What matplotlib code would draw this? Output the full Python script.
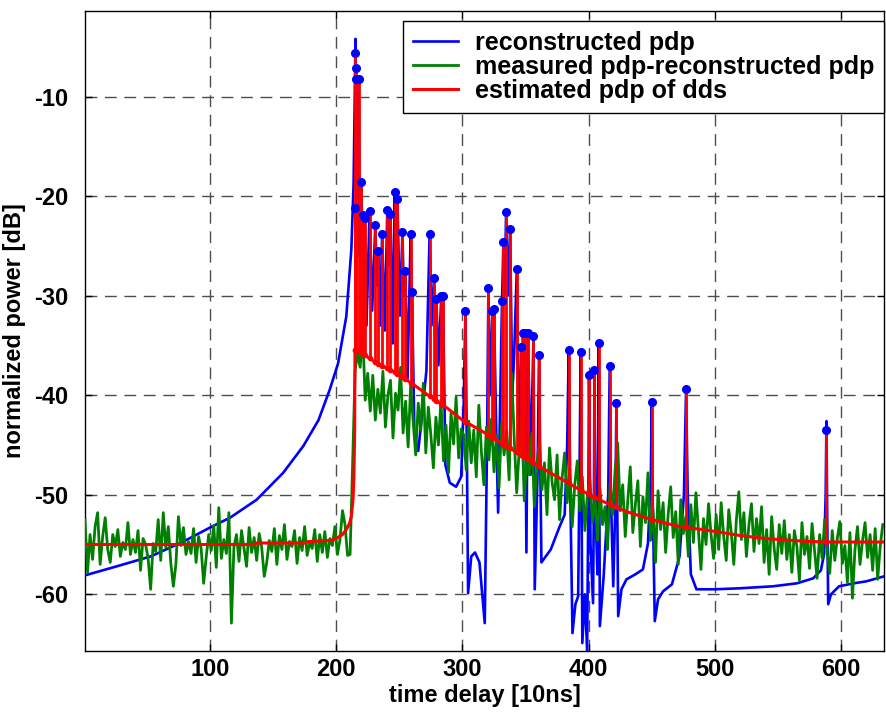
import numpy as np
import matplotlib
matplotlib.use("Agg")
import matplotlib.pyplot as plt

plt.rcParams['font.family'] = ['Liberation Sans', 'DejaVu Sans']
plt.rcParams['font.weight'] = 'bold'
plt.rcParams['axes.unicode_minus'] = False

# ---------------- data ----------------
# reconstructed pdp (blue)
blue_x = [1, 26, 53, 79, 100, 116, 137, 158, 174, 186, 195, 201.5, 208, 212, 213.8, 214.7, 215.3, 215.9,
          216.6, 217.2, 217.8, 218.6, 220.0, 220.8, 221.3, 222.0, 222.6, 224.0, 226.5, 228.5, 231.0, 232.3,
          233.4, 234.8, 236.4, 238.5, 240.5, 241.8, 243.0, 244.8, 246.4, 247.5, 248.5, 250.5, 252.5, 253.6,
          254.8, 256.5, 259.0, 259.5, 260.0, 262.0, 265.0, 268.0, 271.5, 274.0, 275.5, 277.5, 278.4, 279.4,
          281.0, 283.3, 284.0, 284.6, 286.5, 290, 295, 299, 301, 302.4, 303.5, 304.5, 307, 310, 313.5, 317.7,
          319.5, 320.6, 322, 323.8, 324.4, 325.0, 327, 328.3, 330, 331.4, 332.5, 333.5, 334.6, 336, 337.8,
          339.5, 341, 343.1, 344.5, 346.5, 347.3, 348.0, 348.7, 349.4, 350.7, 352.0, 354, 356.3, 357.3,
          359.5, 360.7, 362.6, 370, 377, 381, 383, 384.2, 385.5, 387.2, 389.5, 391.7, 393.0, 393.7, 394.4,
          395.0, 397, 398.8, 399.8, 400.3, 401.5, 403.5, 404.2, 404.6, 405.5, 407, 408.0, 408.9, 412, 415.5,
          416.7, 417.6, 419.5, 421.3, 422.0, 423.4, 426, 430, 437, 443, 447, 449.3, 450.0, 450.7, 452.4, 455,
          459, 466, 472, 475.5, 477.2, 478.5, 481, 485.4, 500, 519.8, 546, 565, 577.9, 584, 586.5, 587.8,
          588.4, 589.0, 589.8, 592, 598.4, 610, 620, 634]
blue_y = [-58.1, -57.2, -56.2, -54.7, -53.3, -52.3, -50.5, -47.8, -45.1, -42.5, -39.4, -36.8, -32.1, -25.4,
          -18.7, -10.0, -4.2, -14.0, -9.0, -16.0, -8.2, -26.0, -18.6, -27.0, -21.9, -26.0, -22.2, -33.0,
          -21.5, -31.5, -22.9, -29.0, -25.5, -33.0, -23.8, -33.5, -21.4, -27.0, -21.8, -34.8, -19.6, -26.0,
          -20.3, -32.0, -23.6, -30.0, -27.5, -38.5, -23.8, -29.0, -29.6, -44.0, -45.6, -42.0, -37.5, -23.8,
          -33.0, -28.2, -34.0, -30.3, -37.0, -30.0, -33.0, -30.0, -47.0, -48.8, -49.2, -48.2, -41.0, -31.5,
          -45.0, -59.9, -56.2, -55.8, -56.8, -62.9, -45.0, -29.2, -40.0, -31.5, -36.0, -31.3, -45.0, -51.8,
          -40.0, -30.5, -24.6, -30.0, -21.6, -30.0, -23.3, -40.0, -36.0, -27.3, -46.0, -35.2, -40.0, -33.8,
          -38.0, -33.8, -55.8, -33.8, -48.0, -34.1, -59.5, -48.0, -36.0, -56.8, -55.5, -53.2, -52.0, -45.0,
          -35.5, -50.0, -63.9, -61.0, -60.2, -45.0, -35.7, -50.0, -64.9, -60.0, -65.7, -50.0, -38.0, -55.0,
          -60.9, -50.0, -37.5, -52.0, -58.0, -34.8, -63.2, -58.0, -50.0, -37.1, -50.0, -59.2, -50.0, -40.8,
          -62.2, -59.5, -58.5, -58.0, -57.5, -54.9, -48.0, -40.7, -50.0, -62.7, -60.5, -59.7, -59.0, -56.2,
          -50.0, -39.4, -50.0, -58.0, -59.5, -59.5, -59.4, -59.2, -58.9, -58.4, -57.6, -56.0, -50.0, -42.6,
          -52.0, -61.0, -60.0, -59.2, -58.9, -58.7, -58.2]

# measured pdp - reconstructed pdp (green), one value every 2 delay units from 1 to 633
green_y = [
    -52.5, -57.8, -54.0, -56.5, -53.2, -51.8, -57.0, -54.2, -52.3, -55.5,
    -56.8, -54.0, -55.2, -53.5, -56.2, -54.8, -55.5, -52.8, -56.0, -54.5,
    -55.8, -53.6, -57.6, -54.4, -55.0, -56.4, -59.5, -54.9, -55.7, -52.5,
    -56.6, -51.8, -55.3, -53.2, -56.9, -59.2, -57.0, -52.2, -55.1, -53.3,
    -56.0, -54.7, -55.9, -53.4, -56.8, -54.2, -55.4, -58.9, -56.3, -54.0,
    -55.6, -53.1, -57.3, -51.3, -56.4, -54.5, -55.9, -51.8, -62.9, -55.2,
    -54.0, -56.7, -53.6, -55.4, -57.2, -53.3, -55.8, -54.3, -56.6, -53.9,
    -55.3, -58.2, -56.8, -54.6, -55.7, -53.4, -57.0, -54.1, -55.5, -53.0,
    -56.5, -54.7, -55.2, -53.6, -56.9, -54.3, -55.6, -53.2, -56.1, -54.8,
    -55.4, -53.5, -56.7, -54.0, -55.8, -53.7, -56.3, -54.4, -55.1, -53.2,
    -56.0, -54.5, -51.6, -53.0, -56.1,
    -56.0, -47.0, -37.5, -35.8, -37.2, -33.6, -40.5, -37.8, -41.6, -38.0,
    -42.5, -39.4, -41.8, -37.6, -43.2, -40.0, -38.5, -44.3, -39.8, -41.5,
    -37.2, -43.8, -40.6, -45.2, -39.0, -42.7, -46.0, -40.8, -43.5, -38.8,
    -45.8, -41.2, -44.0, -47.3, -42.2, -45.0, -40.5, -46.6, -43.0, -47.8,
    -41.8, -44.9, -40.2, -46.3, -43.4,
    -44.0, -47.5, -42.6, -46.8, -43.5, -48.2, -41.0, -45.6, -49.0, -43.2,
    -46.5, -42.4, -47.7, -44.0, -49.3, -42.8, -46.0, -43.6, -48.5, -37.8,
    -44.2, -49.8, -45.5, -42.0, -50.6, -46.2, -48.0, -43.8, -51.2, -47.0,
    -44.5, -49.5, -46.8, -52.0, -45.3, -48.7, -50.5, -46.0, -52.5, -48.3,
    -45.8, -50.8, -47.4, -53.2, -49.0, -46.6, -51.6, -48.2, -53.6, -50.0,
    -48.5, -52.8, -50.2, -54.6, -49.4, -53.0, -51.2, -55.5, -48.8, -52.0,
    -47.5, -44.8, -51.6, -49.0, -54.2, -50.6, -47.2, -53.8, -51.0, -48.6,
    -55.2, -50.2, -52.8, -47.8, -54.6, -51.5, -56.8, -49.6, -53.5, -50.8,
    -55.8, -52.0, -49.2, -54.3, -51.7, -57.0, -50.5, -53.9, -52.2, -56.2,
    -51.0, -54.8, -49.8, -53.6, -57.5, -52.4, -55.0, -50.9, -54.0, -56.4,
    -52.0, -55.5, -50.8, -54.2, -56.6, -51.5, -53.8, -57.0, -52.6, -49.7,
    -54.5, -51.8, -56.2, -53.0, -50.9, -55.7, -52.4, -54.9, -51.2, -56.8,
    -53.5, -58.0, -52.2, -55.4, -57.5, -53.0, -55.9, -52.6, -56.5, -54.0,
    -57.8, -53.6, -55.2, -58.6, -52.8, -56.0, -54.2, -57.4, -52.9, -55.6,
    -58.4, -54.0, -56.4, -52.5, -55.8, -57.9, -53.6, -56.6, -54.4, -52.7,
    -56.9, -55.1, -58.8, -53.8, -60.4, -55.5, -53.2, -57.0, -54.6, -52.8,
    -56.3, -54.0, -57.6, -53.4, -58.5, -55.2, -53.0]
green_x = list(range(1, 634, 2))

# estimated pdp of dds: smooth envelope (red)
env_x = [1, 135, 137, 175, 178, 195, 200, 205, 208, 210.5, 212, 213.3, 214.0, 214.6, 214.9, 218, 230, 248,
         262, 274, 288, 300, 314, 327, 345, 360, 378, 393, 410, 430, 450, 472, 490, 501, 520, 540, 562,
         575, 590, 634]
env_y = [-55.0, -55.0, -54.85, -54.85, -54.7, -54.6, -54.4, -54.0, -53.5, -52.9, -52.2, -50.5, -48.5,
         -44.0, -35.4, -35.6, -36.6, -37.8, -39.0, -40.1, -41.3, -42.5, -43.5, -44.5, -45.9, -47.1, -48.4,
         -49.5, -50.6, -51.7, -52.5, -53.2, -53.5, -53.7, -54.1, -54.4, -54.6, -54.7, -54.75, -54.75]

# detected taps (delay, peak power)
tap_x = [215.3, 215.6, 216.0, 217.8, 215.2, 220.0, 221.3, 222.6, 226.5, 231.0, 233.4, 236.4, 240.5, 243.0,
         246.4, 248.5, 252.5, 254.8, 259.0, 260.0, 274.0, 277.5, 279.4, 283.3, 284.6, 302.4, 320.6, 323.8,
         325.0, 331.4, 332.5, 334.6, 337.8, 343.1, 346.5, 348.0, 349.4, 352.0, 356.3, 360.7, 384.2, 393.7,
         400.3, 404.6, 408.0, 416.7, 422.0, 450.0, 477.2, 588.4]
tap_y = [-5.6, -7.1, -8.2, -8.2, -21.2, -18.6, -21.9, -22.2, -21.5, -22.9, -25.5, -23.8, -21.4, -21.8,
         -19.6, -20.3, -23.6, -27.5, -23.8, -29.6, -23.8, -28.2, -30.3, -30.0, -30.0, -31.5, -29.2, -31.5,
         -31.3, -30.5, -24.6, -21.6, -23.3, -27.3, -35.2, -33.8, -33.8, -33.8, -34.1, -36.0, -35.5, -35.7,
         -38.0, -37.5, -34.8, -37.1, -40.8, -40.7, -39.4, -43.5]

legend_labels = ['reconstructed pdp', 'measured pdp-reconstructed pdp', 'estimated pdp of dds']
x_ticks = [100, 200, 300, 400, 500, 600]
y_ticks = [-60, -50, -40, -30, -20, -10]

# ---------------- figure ----------------
W, H = 886, 715
fig = plt.figure(figsize=(W / 100, H / 100), dpi=100)
ax = fig.add_axes([85 / W, (H - 651) / H, (884 - 85) / W, (651 - 11) / H])

BLUE, GREEN, RED = '#0000ff', '#008000', '#ff0000'
FS = 17

l1, = ax.plot(blue_x, blue_y, color=BLUE, lw=1.9, zorder=3)
l2, = ax.plot(green_x, green_y, color=GREEN, lw=2.0, zorder=4)
l3, = ax.plot(env_x, env_y, color=RED, lw=2.2, zorder=5)
bases = np.interp(tap_x, env_x, env_y)
ax.vlines(tap_x, bases, tap_y, color=RED, lw=2.0, zorder=5)
ax.plot(tap_x, bases, 'o', color=RED, ms=3, zorder=5)
ax.plot(tap_x, tap_y, 'o', color=BLUE, ms=5.5, zorder=6)

ax.set_xlim(1, 634)
ax.set_ylim(-65.7, -1.4)
ax.set_xticks(x_ticks)
ax.set_yticks(y_ticks)
ax.grid(True, color='0.3', lw=1.0, linestyle=(0, (8.5, 5.5)))
ax.set_axisbelow(True)
ax.tick_params(direction='in', length=5, width=1, top=True, right=True, labelsize=FS)
ax.tick_params(axis='x', pad=5)
ax.tick_params(axis='y', pad=12)
for lab in ax.get_xticklabels() + ax.get_yticklabels():
    lab.set_fontweight('bold')
for s in ax.spines.values():
    s.set_linewidth(1.0)

ax.set_xlabel('time delay [10ns]', fontsize=FS, fontweight='bold', labelpad=2)
ax.set_ylabel('normalized power [dB]', fontsize=FS, fontweight='bold', labelpad=6)

leg = ax.legend([l1, l2, l3], legend_labels, loc='upper right',
                bbox_to_anchor=(1.0, 1 - 10 / 640), borderaxespad=0.0,
                prop={'size': 18, 'weight': 'bold'}, frameon=True, fancybox=False,
                edgecolor='black', handlelength=1.8, handletextpad=0.65,
                labelspacing=0.0, borderpad=0.4)
leg.get_frame().set_linewidth(1.0)
leg.get_frame().set_alpha(1.0)
leg.set_zorder(10)

fig.savefig('out.png', dpi=100)
